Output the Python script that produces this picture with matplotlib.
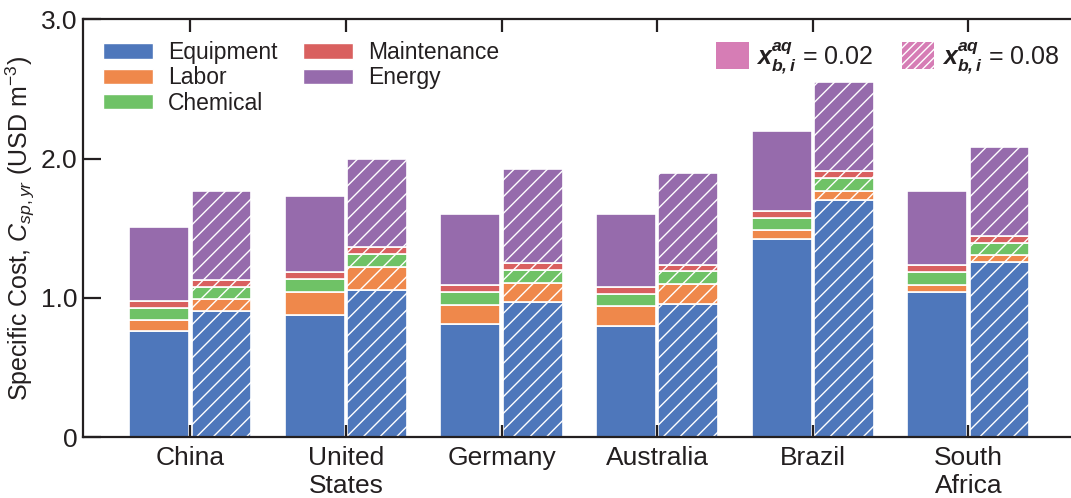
import numpy as np
import matplotlib
matplotlib.use("Agg")
import matplotlib.pyplot as plt
from matplotlib.patches import Patch

plt.rcParams["font.family"] = ["Liberation Sans", "DejaVu Sans"]
plt.rcParams["mathtext.fontset"] = "custom"
plt.rcParams["mathtext.rm"] = "Liberation Sans"
plt.rcParams["mathtext.it"] = "Liberation Sans:italic"
plt.rcParams["mathtext.bf"] = "Liberation Sans:bold"
plt.rcParams["mathtext.bfit"] = "Liberation Sans:italic:bold"
plt.rcParams["hatch.linewidth"] = 1.0

countries = ["China", "United\nStates", "Germany", "Australia", "Brazil", "South\nAfrica"]
components = ["Equipment", "Labor", "Chemical", "Maintenance", "Energy"]
colors = ["#4E77BB", "#EF884B", "#6FC266", "#D9605F", "#966BAC"]

# Cost components (USD m^-3) for x_b,i^aq = 0.02
equipment_low = [0.76, 0.88, 0.81, 0.80, 1.42, 1.045]
labor_low = [0.08, 0.165, 0.14, 0.14, 0.065, 0.05]
chemical_low = [0.09, 0.09, 0.09, 0.09, 0.09, 0.09]
maintenance_low = [0.05, 0.05, 0.05, 0.05, 0.05, 0.05]
energy_low = [0.53, 0.545, 0.515, 0.525, 0.57, 0.53]

# Cost components (USD m^-3) for x_b,i^aq = 0.08
equipment_high = [0.91, 1.06, 0.97, 0.96, 1.70, 1.255]
labor_high = [0.085, 0.165, 0.14, 0.14, 0.07, 0.05]
chemical_high = [0.085, 0.09, 0.09, 0.09, 0.09, 0.09]
maintenance_high = [0.05, 0.05, 0.05, 0.05, 0.05, 0.05]
energy_high = [0.64, 0.635, 0.675, 0.655, 0.64, 0.635]

low = [equipment_low, labor_low, chemical_low, maintenance_low, energy_low]
high = [equipment_high, labor_high, chemical_high, maintenance_high, energy_high]

W, H = 1071, 498
fig = plt.figure(figsize=(W / 100, H / 100), dpi=100)
ax = fig.add_axes([83 / W, (H - 437.3) / H, 992.7 / W, 418 / H])

x = np.arange(len(countries))
width = 0.385
offset = 0.2

for series, dx, hatch in [(low, -offset, None), (high, offset, "//")]:
    bottom = np.zeros(len(countries))
    for vals, c in zip(series, colors):
        vals = np.array(vals)
        ax.bar(x + dx, vals, width, bottom=bottom, color=c,
               edgecolor="white", linewidth=1.2, hatch=hatch)
        bottom += vals

ax.set_xlim(-0.69, 5.69)
ax.set_ylim(0, 3.0)
ax.set_yticks([0, 1.0, 2.0, 3.0])
ax.set_yticklabels(["0", "1.0", "2.0", "3.0"])
ax.set_xticks(x)
ax.set_xticklabels(countries)

ink = "#231F20"
for s in ax.spines.values():
    s.set_linewidth(1.6)
    s.set_color(ink)
ax.spines["right"].set_visible(False)

ax.tick_params(axis="y", direction="in", length=13, width=1.6, labelsize=19,
               pad=4, color=ink, labelcolor=ink)
ax.tick_params(axis="x", direction="in", length=9, width=1.6, labelsize=19,
               pad=6.5, top=True, color=ink, labelcolor=ink)

ax.set_ylabel(r"Specific Cost, $\it{C}_{sp,yr}$ (USD m$^{-3}$)", fontsize=18,
              color=ink)
ax.yaxis.set_label_coords(-0.046, 0.5)

comp_handles = [Patch(facecolor=c, edgecolor="white", label=n)
                for c, n in zip(colors, components)]
leg1 = ax.legend(handles=comp_handles, loc="upper left", ncol=2, frameon=False,
                 fontsize=16.5, bbox_to_anchor=(0.020, 0.948), handlelength=2.18,
                 handleheight=0.65, handletextpad=0.65, columnspacing=1.13,
                 labelspacing=0.1, borderaxespad=0, borderpad=0)
for t in leg1.get_texts():
    t.set_color(ink)
ax.add_artist(leg1)

pink = "#D67DB5"
conc_handles = [
    Patch(facecolor=pink, edgecolor="white", linewidth=0,
          label=r"$\mathbfit{x}_{\mathbfit{b,i}}^{\mathbfit{aq}}$ = 0.02"),
    Patch(facecolor=pink, edgecolor="white", linewidth=0, hatch="////",
          label=r"$\mathbfit{x}_{\mathbfit{b,i}}^{\mathbfit{aq}}$ = 0.08"),
]
leg2 = ax.legend(handles=conc_handles, loc="upper left", ncol=2, frameon=False,
                 fontsize=18, bbox_to_anchor=(0.6377, 0.951), handlelength=1.3,
                 handleheight=1.3, handletextpad=0.3, columnspacing=1.15,
                 borderaxespad=0, borderpad=0)
for t in leg2.get_texts():
    t.set_color(ink)

fig.savefig("out.png", dpi=100)
